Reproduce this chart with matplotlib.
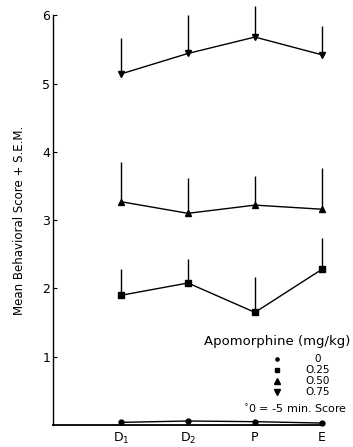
import numpy as np
import matplotlib
matplotlib.use('Agg')
import matplotlib.pyplot as plt

days = ['D$_1$', 'D$_2$', 'P', 'E']
doses = ['0', 'O.25', 'O.50', 'O.75']
markers = ['o', 's', '^', 'v']
msizes = [3.5, 4.5, 5, 5]

means = {
    '0':    [0.04, 0.06, 0.05, 0.03],
    'O.25': [1.90, 2.08, 1.65, 2.28],
    'O.50': [3.27, 3.10, 3.22, 3.16],
    'O.75': [5.14, 5.44, 5.68, 5.42],
}
sem = {
    '0':    [0.0, 0.0, 0.0, 0.0],
    'O.25': [0.38, 0.35, 0.52, 0.46],
    'O.50': [0.58, 0.52, 0.42, 0.60],
    'O.75': [0.52, 0.56, 0.45, 0.42],
}

fig = plt.figure(figsize=(3.53, 4.47), dpi=100)
ax = fig.add_axes([0.150, 0.049, 0.762, 0.917])

x = np.arange(len(days))
for d, m, ms in zip(doses, markers, msizes):
    y = np.array(means[d])
    e = np.array(sem[d])
    ax.plot(x, y, color='black', lw=1.0, marker=m, ms=ms, clip_on=False, zorder=3)
    if e.max() > 0:
        ax.errorbar(x, y, yerr=[np.zeros_like(e), e], fmt='none', ecolor='black',
                    elinewidth=1.0, capsize=0, clip_on=False)

ax.set_xlim(-1.015, 3)
ax.set_ylim(0, 6)
ax.set_yticks([1, 2, 3, 4, 5, 6])
ax.set_xticks(x)
ax.set_xticklabels(days, fontsize=9)
ax.tick_params(axis='y', direction='in', length=3, labelsize=9, pad=2)
ax.tick_params(axis='x', direction='in', length=3, pad=4)
ax.spines['top'].set_visible(False)
ax.spines['right'].set_visible(False)
ax.spines['bottom'].set_linewidth(1.3)
ax.spines['left'].set_linewidth(1.0)
ax.set_ylabel('Mean Behavioral Score + S.E.M.', fontsize=8.5, labelpad=12)

# legend drawn as text
fig.text(350 / 353, 1 - 341 / 447, 'Apomorphine (mg/kg)', fontsize=9.5,
         ha='right', va='center')
ly = [0.97, 0.80, 0.64, 0.48]
for d, m, ms, yy in zip(doses, markers, msizes, ly):
    ax.plot([2.33], [yy], marker=m, ms=ms - 1.2, color='black', clip_on=False)
    ax.text(2.93, yy, d, fontsize=7.5, ha='center', va='center')
ax.text(2.6, 0.23, '$^{\\circ}$0 = -5 min. Score', fontsize=8, ha='center', va='center')

fig.savefig('out.png', dpi=100)
